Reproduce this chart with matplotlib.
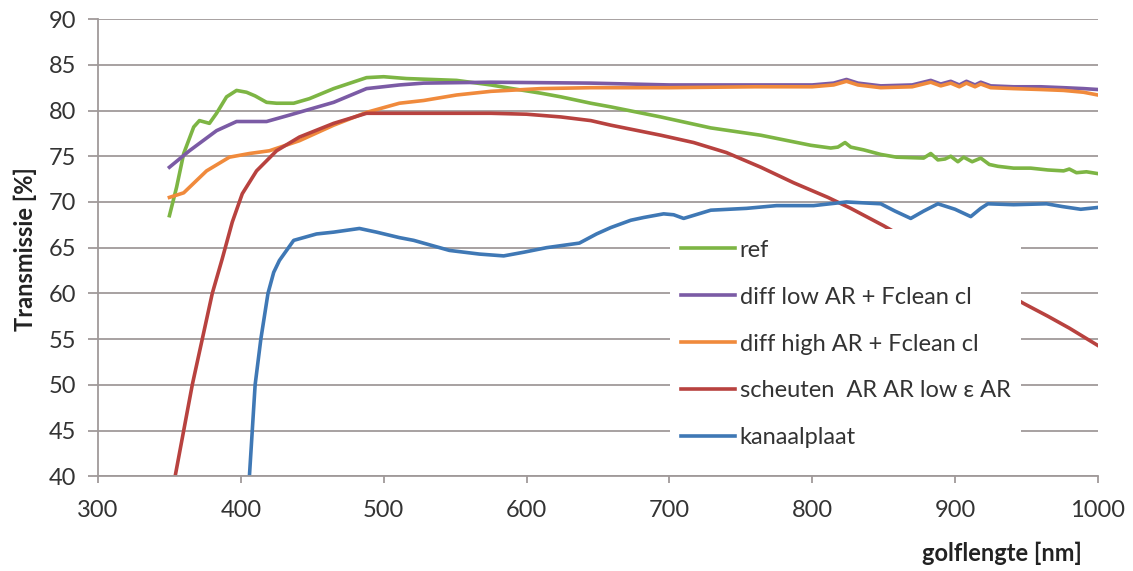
import matplotlib
matplotlib.use("Agg")
import matplotlib.pyplot as plt

plt.rcParams['font.family'] = ['Lato', 'DejaVu Sans']

# ref
ref_nm = [350, 355, 360, 367, 371, 378, 383, 390, 397, 404, 410, 418, 425, 437,
          448, 465, 488, 500, 516, 551, 575, 590, 610, 624, 645, 659, 694, 729, 764, 799,
          813, 818, 823, 827, 836, 848, 859, 878, 883, 888, 893, 897, 902, 906, 912, 918,
          924, 930, 941, 953, 965, 976, 980, 985, 992, 1000]
ref_t = [68.5, 71.6, 75.3, 78.2, 78.9, 78.6, 79.7, 81.5, 82.2, 82.0, 81.6, 80.9, 80.8, 80.8,
         81.3, 82.4, 83.6, 83.7, 83.5, 83.3, 82.8, 82.4, 81.9, 81.5, 80.8, 80.4, 79.3, 78.1, 77.3, 76.2,
         75.9, 76.0, 76.5, 76.0, 75.7, 75.2, 74.9, 74.8, 75.3, 74.6, 74.7, 75.0, 74.4, 74.9, 74.4, 74.8,
         74.1, 73.9, 73.7, 73.7, 73.5, 73.4, 73.6, 73.2, 73.3, 73.1]

# diff low AR + Fclean cl
low_nm = [350, 364, 383, 397, 418, 434, 465, 488, 511, 528, 575, 645, 700, 760, 800,
          815, 824, 832, 848, 870, 883, 890, 897, 903, 908, 914, 918, 925, 941, 960, 976, 990, 1000]
low_t = [73.8, 75.6, 77.8, 78.8, 78.8, 79.5, 80.9, 82.4, 82.8, 83.0, 83.1, 83.0, 82.8, 82.8, 82.8,
         83.0, 83.4, 83.0, 82.7, 82.8, 83.3, 82.9, 83.2, 82.8, 83.2, 82.8, 83.1, 82.7, 82.6, 82.6, 82.5, 82.4, 82.3]

# diff high AR + Fclean cl
high_nm = [350, 360, 376, 392, 406, 420, 441, 465, 488, 511, 528, 551, 575, 610, 645, 700, 760, 800,
           815, 824, 832, 848, 870, 883, 890, 897, 903, 908, 914, 918, 925, 941, 960, 976, 990, 1000]
high_t = [70.5, 71.0, 73.4, 74.9, 75.3, 75.6, 76.7, 78.4, 79.8, 80.8, 81.1, 81.7, 82.1, 82.4, 82.5, 82.5, 82.6, 82.6,
          82.8, 83.2, 82.8, 82.5, 82.6, 83.1, 82.7, 83.0, 82.6, 83.0, 82.6, 82.9, 82.5, 82.4, 82.3, 82.2, 82.0, 81.7]

# scheuten AR AR low e AR
sch_nm = [350, 354, 360, 366, 373, 380, 387, 394, 401, 411, 425, 441, 465, 488, 511, 540, 575, 600, 624,
          645, 659, 694, 717, 740, 764, 787, 811, 827, 850, 870, 900, 925, 948, 965, 980, 1000]
sch_t = [36.5, 40.0, 45.0, 50.0, 55.0, 60.0, 63.8, 67.8, 70.9, 73.4, 75.6, 77.1, 78.6, 79.7, 79.7, 79.7, 79.7, 79.6, 79.3,
         78.9, 78.4, 77.3, 76.5, 75.4, 73.8, 72.1, 70.5, 69.3, 67.4, 65.6, 63.0, 61.0, 58.9, 57.5, 56.2, 54.3]

# kanaalplaat
kan_nm = [402, 406, 410, 414, 419, 423, 427, 437, 453, 465, 483, 495, 511, 521, 546, 567, 584, 598,
          614, 637, 649, 659, 673, 682, 696, 703, 710, 729, 754, 775, 801, 824, 848, 858, 869, 878,
          888, 900, 911, 918, 923, 941, 964, 975, 988, 1000]
kan_t = [30.0, 40.0, 50.0, 55.0, 60.0, 62.3, 63.6, 65.8, 66.5, 66.7, 67.1, 66.7, 66.1, 65.8, 64.7, 64.3, 64.1, 64.5,
         65.0, 65.5, 66.5, 67.2, 68.0, 68.3, 68.7, 68.6, 68.2, 69.1, 69.3, 69.6, 69.6, 70.0, 69.8, 69.0, 68.2, 69.0,
         69.8, 69.2, 68.4, 69.3, 69.8, 69.7, 69.8, 69.5, 69.2, 69.4]

fig = plt.figure(figsize=(11.33, 5.71), dpi=100)
ax = fig.add_axes([0.0865, 0.166, 0.8825, 0.8005])

lw = 2.6
ax.plot(ref_nm, ref_t, color='#7DB544', lw=lw, label='ref')
ax.plot(low_nm, low_t, color='#7B5BA5', lw=lw, label='diff low AR + Fclean cl')
ax.plot(high_nm, high_t, color='#F08A3C', lw=lw, label='diff high AR + Fclean cl')
ax.plot(sch_nm, sch_t, color='#B8423F', lw=lw, label='scheuten  AR AR low ε AR')
ax.plot(kan_nm, kan_t, color='#3F78B5', lw=lw, label='kanaalplaat')

ax.set_xlim(300, 1000)
ax.set_ylim(40, 90)
ax.set_xticks(range(300, 1001, 100))
ax.set_yticks(range(40, 91, 5))

gridc = '#a09a9a'
ax.grid(axis='y', color=gridc, lw=1.3)
ax.set_axisbelow(True)
for s in ['top', 'right']:
    ax.spines[s].set_visible(False)
for s in ['left', 'bottom']:
    ax.spines[s].set_color(gridc)
    ax.spines[s].set_linewidth(1.3)

ax.tick_params(axis='y', length=7, width=1.3, color=gridc, pad=9, labelsize=17, labelcolor='#333333')
ax.tick_params(axis='x', length=5, width=1.3, color=gridc, pad=12, labelsize=17, labelcolor='#333333')

ax.set_ylabel('Transmissie [%]', fontsize=17, fontweight='bold', color='#222222', va='center')
ax.yaxis.set_label_coords(-0.073, 0.498)
ax.set_xlabel('golflengte [nm]', fontsize=17, fontweight='bold', color='#222222', ha='right', va='center')
ax.xaxis.set_label_coords(0.984, -0.168)

leg = ax.legend(loc='upper left', bbox_to_anchor=(0.572, 0.541), fontsize=17,
                frameon=True, facecolor='white', edgecolor='none', framealpha=1,
                fancybox=False, handlelength=2.3, handletextpad=0.2,
                labelspacing=1.1, borderpad=0.45, borderaxespad=0)
for t in leg.get_texts():
    t.set_color('#333333')

fig.savefig('out.png', dpi=100)
